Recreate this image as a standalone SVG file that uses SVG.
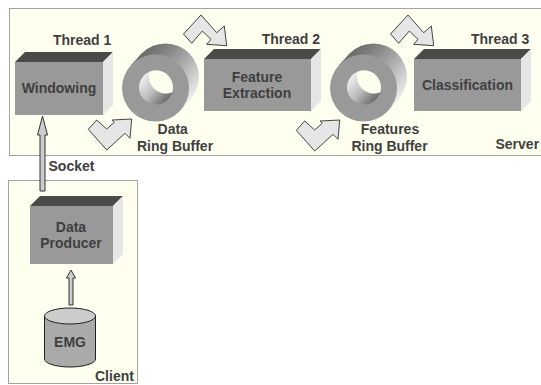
<svg xmlns="http://www.w3.org/2000/svg" xmlns:xlink="http://www.w3.org/1999/xlink" width="541" height="385" viewBox="0 0 541 385">
<style>
text{font-family:"Liberation Sans",Arial,sans-serif;font-weight:700;font-size:14px;fill:#3f3f3f}
.m{text-anchor:middle}
.area{fill:#fffff0;stroke:#444;stroke-width:1;stroke-dasharray:1 1}
.front{fill:#999}
.top{fill:#4a4a48}
.side{fill:#e6e6e6}
.flow{fill:#e6e6e6;stroke:#444;stroke-width:1;stroke-linejoin:miter}
.thin{fill:#ccc;stroke:#333;stroke-width:1}
</style>
<defs>
<linearGradient id="body" gradientUnits="userSpaceOnUse" x1="140.700" y1="54.500" x2="190.300" y2="99.500">
<stop offset="0" stop-color="#6a6a6a"/><stop offset=".3" stop-color="#8a8a8a"/><stop offset=".55" stop-color="#aaa"/><stop offset="1" stop-color="#ececec"/>
</linearGradient>
<linearGradient id="bore" gradientUnits="userSpaceOnUse" x1="142" y1="78" x2="170" y2="104">
<stop offset="0" stop-color="#eee"/><stop offset=".45" stop-color="#bbb"/><stop offset="1" stop-color="#555"/>
</linearGradient>
<clipPath id="holeClip"><circle cx="156" cy="87.500" r="17"/></clipPath>
<g id="ring">
<circle cx="165.500" cy="77" r="33.500" fill="url(#body)"/>
<polygon points="130.700,65.500 140.700,54.500 190.300,99.500 180.300,110.500" fill="url(#body)"/>
<circle cx="155.500" cy="88" r="33.500" fill="#999"/>
<circle cx="156" cy="87.500" r="17" fill="url(#bore)"/>
<circle cx="166" cy="76.500" r="17" fill="#fffff0" clip-path="url(#holeClip)"/>
</g>
<polygon id="bentLow" class="flow" points="88.300,129.300 96.700,120 106.700,129 114.300,122.300 112,120 131.700,119 130,138.300 125,133.300 106.700,150"/>
<polygon id="bentHigh" class="flow" points="183.500,34 201,15 216.700,32.700 224.300,26 226.700,45.700 206.700,44.300 211,39.300 202.300,31 191.700,43.300"/>
</defs>
<rect class="area" x="9.500" y="8.500" width="540" height="147"/>
<rect class="area" x="8.500" y="180.500" width="129" height="203"/>
<g id="connectors">
<polygon class="thin" points="42.500,116 47.500,135 45,135 45,191 40,191 40,135 37.500,135"/>
<polygon class="thin" points="71,270 75.500,278 73,278 73,305 69,305 69,278 66.500,278"/>
<use xlink:href="#bentLow"/>
<use xlink:href="#bentHigh"/>
<use xlink:href="#bentLow" x="208" y="1"/>
<use xlink:href="#bentHigh" x="207"/>
</g>
<g id="windowing">
<polygon class="top" points="15,62 25,52 113,52 103,62"/>
<polygon class="side" points="103,62 113,52 113,105 103,115"/>
<rect class="front" x="15" y="62" width="88" height="53"/>
<text class="m" x="59" y="93">Windowing</text>
<text x="53" y="45">Thread 1</text>
</g>
<g id="data-ring-buffer">
<use xlink:href="#ring"/>
<text class="m" x="172.700" y="134">Data</text>
<text class="m" x="175" y="150.500">Ring Buffer</text>
</g>
<g id="feature-extraction">
<polygon class="top" points="204,59 214,49 321,49 311,59"/>
<polygon class="side" points="311,59 321,49 321,101 311,111"/>
<rect class="front" x="204" y="59" width="107" height="52"/>
<text class="m" x="257" y="82">Feature</text>
<text class="m" x="257" y="98">Extraction</text>
<text x="320" y="43.500" text-anchor="end">Thread 2</text>
</g>
<g id="features-ring-buffer">
<use xlink:href="#ring" x="208"/>
<text class="m" x="390" y="134">Features</text>
<text class="m" x="389.500" y="150.500">Ring Buffer</text>
</g>
<g id="classification">
<polygon class="top" points="414,59 424,49 531,49 521,59"/>
<polygon class="side" points="521,59 531,49 531,101 521,111"/>
<rect class="front" x="414" y="59" width="107" height="52"/>
<text class="m" x="467.500" y="90">Classification</text>
<text x="471" y="43.500">Thread 3</text>
</g>
<g id="server-label"><text x="495.500" y="149">Server</text></g>
<g id="socket-label"><text x="48.500" y="171">Socket</text></g>
<g id="data-producer">
<polygon class="top" points="30,206 40,196 123,196 113,206"/>
<polygon class="side" points="113,206 123,196 123,254 113,264"/>
<rect class="front" x="30" y="206" width="83" height="58"/>
<text class="m" x="71" y="232">Data</text>
<text class="m" x="71" y="248">Producer</text>
</g>
<g id="emg">
<path d="M44.500,316 V359 A25.500,8 0 0 0 95.500,359 V316 Z" fill="#aaa" stroke="#222"/>
<ellipse cx="70" cy="316" rx="25.500" ry="8" fill="#ccc" stroke="#222"/>
<text class="m" x="70" y="346.500">EMG</text>
</g>
<g id="client-label"><text x="95" y="381">Client</text></g>
</svg>
